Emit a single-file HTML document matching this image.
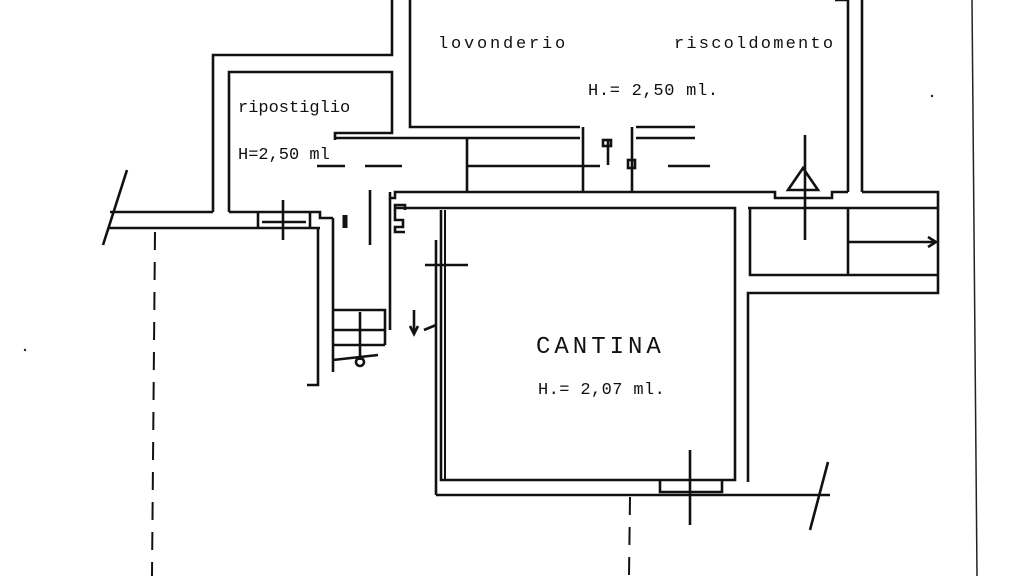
<!DOCTYPE html>
<html><head><meta charset="utf-8"><style>
html,body{margin:0;padding:0;background:#fff;}
svg{display:block}
text{font-family:"Liberation Mono",monospace;fill:#111}
</style></head><body>
<svg width="1024" height="576" viewBox="0 0 1024 576" xmlns="http://www.w3.org/2000/svg">
<g fill="none" stroke="#111" stroke-width="2.6" stroke-linejoin="miter">
<polyline points="213,212 213,55 392,55 392,0"/>
<polyline points="229,212 229,72 392,72 392,133 335,133 335,140"/>
<polyline points="410,0 410,127 580,127"/>
<polyline points="335,138 580,138"/>
<polyline points="636,127 695,127"/>
<polyline points="636,138 695,138"/>
<line x1="467" y1="166" x2="600" y2="166"/>
<line x1="317" y1="166" x2="345" y2="166"/>
<line x1="365" y1="166" x2="402" y2="166"/>
<line x1="668" y1="166" x2="710" y2="166"/>
<line x1="467" y1="138" x2="467" y2="192"/>
<line x1="583" y1="127" x2="583" y2="192"/>
<line x1="632" y1="127" x2="632" y2="192"/>
<line x1="608" y1="140" x2="608" y2="165"/>
<rect x="603" y="140" width="8" height="6"/>
<rect x="628" y="160" width="7" height="8"/>
<polyline points="835,0 848,0 848,192"/>
<line x1="862" y1="0" x2="862" y2="192"/>
<polyline points="390,192 390,198 395,198 395,192 775,192 775,198 832,198 832,192 848,192"/>
<polyline points="862,192 938,192 938,293 748,293 748,482"/>
<polyline points="748,208 938,208"/>
<polyline points="750,208 750,275 938,275"/>
<line x1="848" y1="208" x2="848" y2="275"/>
<line x1="848" y1="242" x2="936" y2="242"/>
<polyline points="928,237 936,242 928,247"/>
<line x1="805" y1="135" x2="805" y2="240"/>
<polygon points="788,190 818,190 803,168"/>
<polyline points="405,210 405,205 395,205 395,220 403,220 403,227 395,227 395,232 405,232"/>
<polyline points="395,208 735,208 735,480 441,480 441,210"/>
<line x1="445" y1="210" x2="445" y2="480" stroke-width="2"/>
<line x1="436" y1="240" x2="436" y2="495"/>
<polyline points="436,495 830,495"/>
<polyline points="660,480 660,492 722,492 722,480"/>
<line x1="690" y1="450" x2="690" y2="525"/>
<line x1="425" y1="265" x2="468" y2="265"/>
<line x1="828" y1="462" x2="810" y2="530"/>
<polyline points="110,212 213,212"/>
<polyline points="229,212 320,212 320,218 333,218"/>
<polyline points="108,228 320,228"/>
<polyline points="258,212 258,228"/>
<polyline points="310,212 310,228"/>
<line x1="262" y1="222" x2="306" y2="222"/>
<line x1="283" y1="200" x2="283" y2="240"/>
<line x1="127" y1="170" x2="103" y2="245"/>
<polyline points="318,228 318,385 307,385"/>
<polyline points="333,218 333,372"/>
<line x1="345" y1="215" x2="345" y2="228" stroke-width="5"/>
<line x1="370" y1="190" x2="370" y2="245"/>
<polyline points="390,198 390,330"/>
<polyline points="333,310 385,310 385,345"/>
<line x1="333" y1="330" x2="385" y2="330"/>
<line x1="333" y1="345" x2="385" y2="345"/>
<line x1="333" y1="360" x2="378" y2="355"/>
<line x1="360" y1="312" x2="360" y2="360"/>
<circle cx="360" cy="362" r="4"/>
<line x1="414" y1="310" x2="414" y2="333"/>
<polyline points="410,326 414,334 418,326"/>
<line x1="424" y1="330" x2="436" y2="325"/>
</g>
<g stroke="#111" stroke-width="2" stroke-dasharray="18,12" fill="none">
<line x1="155" y1="232" x2="152" y2="576"/>
<line x1="630" y1="497" x2="629" y2="576"/>
</g>
<line x1="972" y1="0" x2="977" y2="576" stroke="#222" stroke-width="1.5"/>
<circle cx="932" cy="96" r="1.2" fill="#222"/>
<circle cx="25" cy="350" r="1.2" fill="#222"/>
<g font-size="17">
<text x="438" y="48" letter-spacing="2.8">lovonderio</text>
<text x="674" y="48" letter-spacing="2.2">riscoldomento</text>
<text x="588" y="95" letter-spacing="0.7">H.= 2,50 ml.</text>
<text x="238" y="112">ripostiglio</text>
<text x="238" y="159">H=2,50 ml</text>
<text x="536" y="353" font-size="24" letter-spacing="4">CANTINA</text>
<text x="538" y="394" letter-spacing="0.4">H.= 2,07 ml.</text>
</g>
</svg>
</body></html>
